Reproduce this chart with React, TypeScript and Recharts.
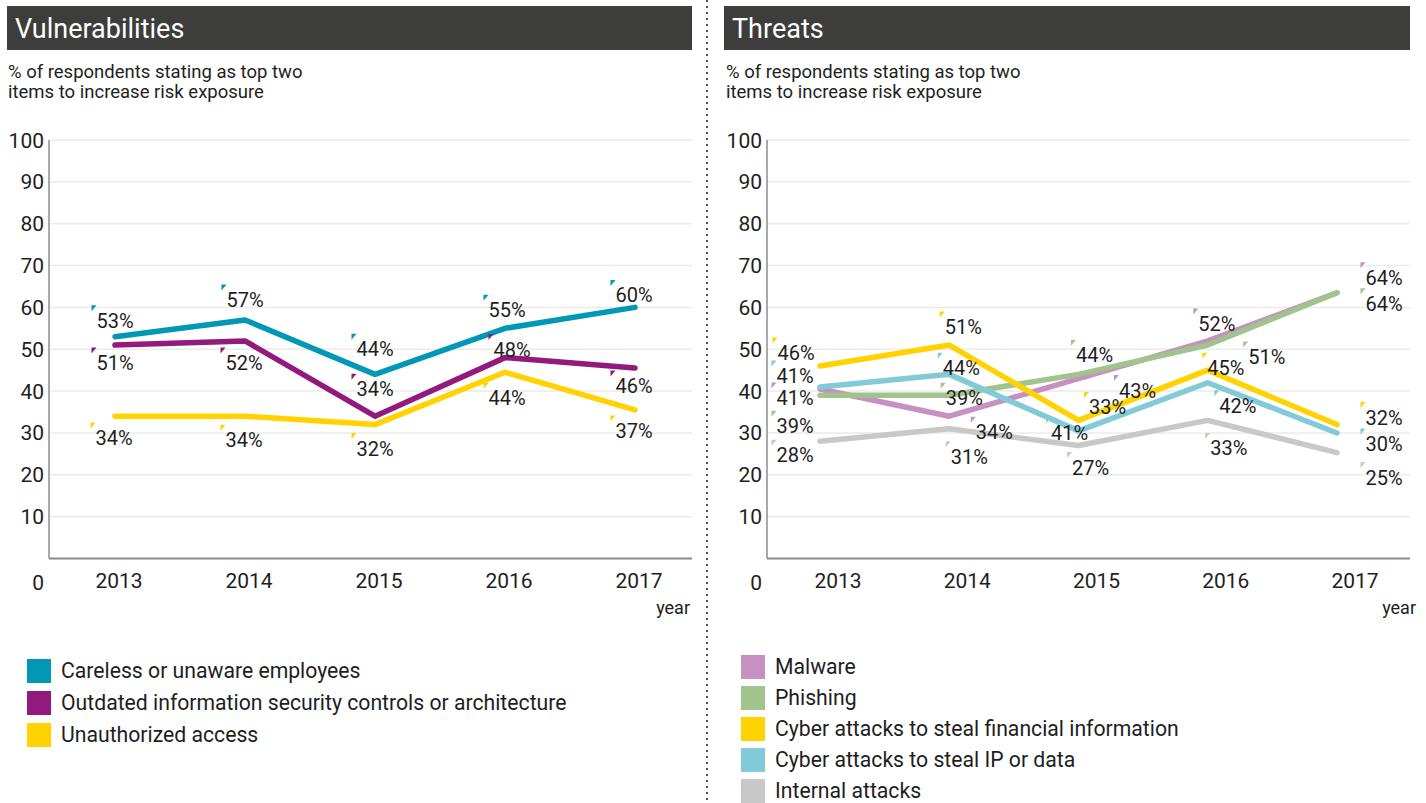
import React from "react";
import { LineChart, Line, XAxis, YAxis, CartesianGrid } from "recharts";

const years = ["2013", "2014", "2015", "2016", "2017"];
const yTicks = [0, 10, 20, 30, 40, 50, 60, 70, 80, 90, 100];

// Vulnerabilities: plotted values and the printed labels (they differ in a couple of places)
const carelessValues = [53, 57, 44, 55, 60];
const carelessLabels = [53, 57, 44, 55, 60];
const outdatedValues = [51, 52, 34, 48, 45.5];
const outdatedLabels = [51, 52, 34, 48, 46];
const unauthorizedValues = [34, 34, 32, 44.5, 35.5];
const unauthorizedLabels = [34, 34, 32, 44, 37];

// Threats
const malwareValues = [40.5, 34, 43, 52, 63.5];
const malwareLabels = [41, 34, 43, 52, 64];
const phishingValues = [39, 39, 44, 51, 63.5];
const phishingLabels = [39, 39, 44, 51, 64];
const financialValues = [46, 51, 33, 45, 32];
const financialLabels = [46, 51, 33, 45, 32];
const ipValues = [41, 44, 30.5, 42, 30];
const ipLabels = [41, 44, 41, 42, 30];
const internalValues = [28, 31, 27, 33, 25.3];
const internalLabels = [28, 31, 27, 33, 25];

const FONT = "Roboto, 'Open Sans', sans-serif";
const INK = "#1e1e1e";
const HEADER_BG = "#3d3d3c";

// label placement relative to each point, [dx, dy] of the text centre
const labelOffsets: Record<string, number[][]> = {
  careless: [[0, -16], [0, -20], [0, -25], [2, -18], [-1, -12]],
  outdated: [[0, 18], [-1, 22], [0, -27], [7, -8], [-1, 18]],
  unauthorized: [[-1, 22], [-1, 24], [0, 24], [2, 26], [-1, 21]],
  malware: [[-25, 9], [45, 16], [59, 12], [9, -17], [47, -15]],
  phishing: [[-25, 31], [15, 3], [16, -19], [59, 12], [47, 11]],
  financial: [[-24, -13], [14, -18], [29, -13], [18, -2], [47, -7]],
  ip: [[-25, -11], [12, -6], [-9, 2], [30, 23], [47, 11]],
  internal: [[-25, 14], [20, 28], [12, 22], [21, 28], [47, 25]],
};

type Series = {
  key: string;
  name: string;
  color: string;
  values: number[];
  labels: number[];
};

const vulnSeries: Series[] = [
  { key: "careless", name: "Careless or unaware employees", color: "#0098b4", values: carelessValues, labels: carelessLabels },
  { key: "outdated", name: "Outdated information security controls or architecture", color: "#921a7d", values: outdatedValues, labels: outdatedLabels },
  { key: "unauthorized", name: "Unauthorized access", color: "#ffd200", values: unauthorizedValues, labels: unauthorizedLabels },
];

const threatSeries: Series[] = [
  { key: "malware", name: "Malware", color: "#c691c1", values: malwareValues, labels: malwareLabels },
  { key: "phishing", name: "Phishing", color: "#a1c48d", values: phishingValues, labels: phishingLabels },
  { key: "financial", name: "Cyber attacks to steal financial information", color: "#ffd200", values: financialValues, labels: financialLabels },
  { key: "ip", name: "Cyber attacks to steal IP or data", color: "#83cad9", values: ipValues, labels: ipLabels },
  { key: "internal", name: "Internal attacks", color: "#c8c8c8", values: internalValues, labels: internalLabels },
];

function buildRows(series: Series[]) {
  return years.map((year, i) => {
    const row: Record<string, string | number> = { year };
    series.forEach((s) => {
      row[s.key] = s.values[i];
    });
    return row;
  });
}

function PctLabel(props: any) {
  const { x, y, index, s } = props;
  if (x == null || y == null) return null;
  const [dx, dy] = labelOffsets[s.key][index];
  const cx = x + dx;
  const cy = y + dy;
  const left = cx - 18.5;
  const capTop = cy - 7.5;
  return (
    <g>
      <polygon
        points={`${left - 5},${capTop - 8} ${left},${capTop - 8} ${left - 5},${capTop - 2}`}
        fill={s.color}
      />
      <text x={cx} y={cy + 7} textAnchor="middle" fontSize={20} fill={INK} fontFamily={FONT}>
        {`${s.labels[index]}%`}
      </text>
    </g>
  );
}

function YTick(props: any) {
  const { x, y, payload } = props;
  const zero = payload.value === 0;
  return (
    <text x={x} y={y + (zero ? 24 : 0) + 7.5} textAnchor="end" fontSize={21} fill={INK} fontFamily={FONT}>
      {payload.value}
    </text>
  );
}

function XTick(props: any) {
  const { x, y, payload, shift } = props;
  return (
    <text x={x + shift} y={y + 29} textAnchor="middle" fontSize={21} fill={INK} fontFamily={FONT}>
      {payload.value}
    </text>
  );
}

type PanelProps = {
  left: number;
  title: string;
  series: Series[];
  drawOrder: string[];
  padLeft: number;
  padRight: number;
  tickShift: number;
  headerLeft: number;
  legendLeft: number;
  legendTop: number;
  legendRow: number;
  yearRight: number;
};

function Panel(p: PanelProps) {
  const rows = buildRows(p.series);
  const ordered = p.drawOrder.map((k) => p.series.find((s) => s.key === k)!);
  return (
    <div style={{ position: "absolute", left: p.left, top: 0, width: 700, height: 803, fontFamily: FONT, color: INK }}>
      <div
        style={{
          position: "absolute",
          left: p.headerLeft,
          top: 6,
          width: 692 - p.headerLeft,
          height: 44,
          background: HEADER_BG,
          color: "#fff",
          fontSize: 27,
          lineHeight: "46px",
          paddingLeft: 8,
          boxSizing: "border-box",
        }}
      >
        {p.title}
      </div>
      <div style={{ position: "absolute", left: 8, top: 62, fontSize: 18.5, lineHeight: "20px" }}>
        % of respondents stating as top two
        <br />
        items to increase risk exposure
      </div>

      <div style={{ position: "absolute", left: 0, top: 0 }}>
        <LineChart width={700} height={620} data={rows} margin={{ top: 140, right: 8, bottom: 31.5, left: 0 }}>
          <CartesianGrid vertical={false} stroke="#ebebeb" strokeWidth={1.5} />
          <XAxis
            dataKey="year"
            padding={{ left: p.padLeft, right: p.padRight }}
            tickLine={false}
            tickSize={0}
            tickMargin={0}
            height={30}
            interval={0}
            stroke="#8c8c8c"
            strokeWidth={2}
            tick={(tp: any) => <XTick {...tp} shift={p.tickShift} />}
          />
          <YAxis
            domain={[0, 100]}
            ticks={yTicks}
            width={49}
            tickLine={false}
            tickSize={0}
            tickMargin={5}
            interval={0}
            stroke="#8c8c8c"
            strokeWidth={1.5}
            tick={(tp: any) => <YTick {...tp} />}
          />
          {ordered.map((s) => (
            <Line
              key={s.key}
              type="linear"
              dataKey={s.key}
              stroke={s.color}
              strokeWidth={5.5}
              strokeLinecap="round"
              strokeLinejoin="round"
              dot={false}
              activeDot={false}
              isAnimationActive={false}
            />
          ))}
          {ordered.map((s) => (
            <Line
              key={`${s.key}-labels`}
              type="linear"
              dataKey={s.key}
              stroke="none"
              dot={false}
              activeDot={false}
              isAnimationActive={false}
              label={(lp: any) => <PctLabel {...lp} s={s} />}
            />
          ))}
        </LineChart>
      </div>

      <div
        style={{
          position: "absolute",
          left: p.yearRight - 60,
          width: 60,
          top: 598,
          textAlign: "right",
          fontSize: 18,
          lineHeight: "20px",
        }}
      >
        year
      </div>

      <div style={{ position: "absolute", left: p.legendLeft, top: p.legendTop }}>
        {p.series.map((s) => (
          <div key={s.key} style={{ display: "flex", alignItems: "center", height: p.legendRow }}>
            <div style={{ width: 24, height: 24, background: s.color, marginRight: 10, flex: "none" }} />
            <span style={{ fontSize: 21.2, lineHeight: "20px", whiteSpace: "nowrap" }}>{s.name}</span>
          </div>
        ))}
      </div>
    </div>
  );
}

export default function App() {
  return (
    <div style={{ position: "absolute", left: 0, top: 0, width: 1426, height: 803, overflow: "hidden", background: "#fff" }}>
      <Panel
        left={0}
        title="Vulnerabilities"
        series={vulnSeries}
        drawOrder={["unauthorized", "outdated", "careless"]}
        padLeft={66}
        padRight={57}
        tickShift={4}
        headerLeft={7}
        legendLeft={27}
        legendTop={655}
        legendRow={32}
        yearRight={690}
      />
      <svg style={{ position: "absolute", left: 0, top: 0 }} width={1426} height={803}>
        <line x1={707} y1={0} x2={707} y2={803} stroke="#555" strokeWidth={2} strokeDasharray="2 4" />
      </svg>
      <Panel
        left={718}
        title="Threats"
        series={threatSeries}
        drawOrder={["internal", "malware", "phishing", "ip", "financial"]}
        padLeft={53}
        padRight={73}
        tickShift={18}
        headerLeft={6}
        legendLeft={23}
        legendTop={651}
        legendRow={31}
        yearRight={698}
      />
    </div>
  );
}
